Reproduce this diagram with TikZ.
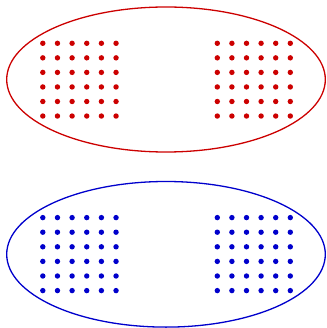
\documentclass[tikz,border=0pt]{standalone}
\definecolor{cred}{RGB}{204,0,0}
\definecolor{cblue}{RGB}{0,0,204}
\begin{document}
\begin{tikzpicture}[x=1pt,y=-1pt,
  ring/.style={line width=1.3pt},
  dotc/.style={}]
\useasboundingbox (0,0) rectangle (326,328);
% red group
\draw[ring,cred] (166,79.5) ellipse [x radius=159.3, y radius=72.5];
\foreach \i in {0,...,5}{
  \foreach \j in {0,...,5}{
    \fill[cred] ({42.8+14.65*\i},{43.3+14.55*\j}) circle (2.7);
    \fill[cred] ({217.3+14.6*\i},{43.3+14.55*\j}) circle (2.7);
  }
}
% blue group
\draw[ring,cblue] (166,254.3) ellipse [x radius=159.3, y radius=72.8];
\foreach \i in {0,...,5}{
  \foreach \j in {0,...,5}{
    \fill[cblue] ({42.8+14.65*\i},{217.6+14.6*\j}) circle (2.7);
    \fill[cblue] ({217.3+14.6*\i},{217.6+14.6*\j}) circle (2.7);
  }
}
\end{tikzpicture}
\end{document}
